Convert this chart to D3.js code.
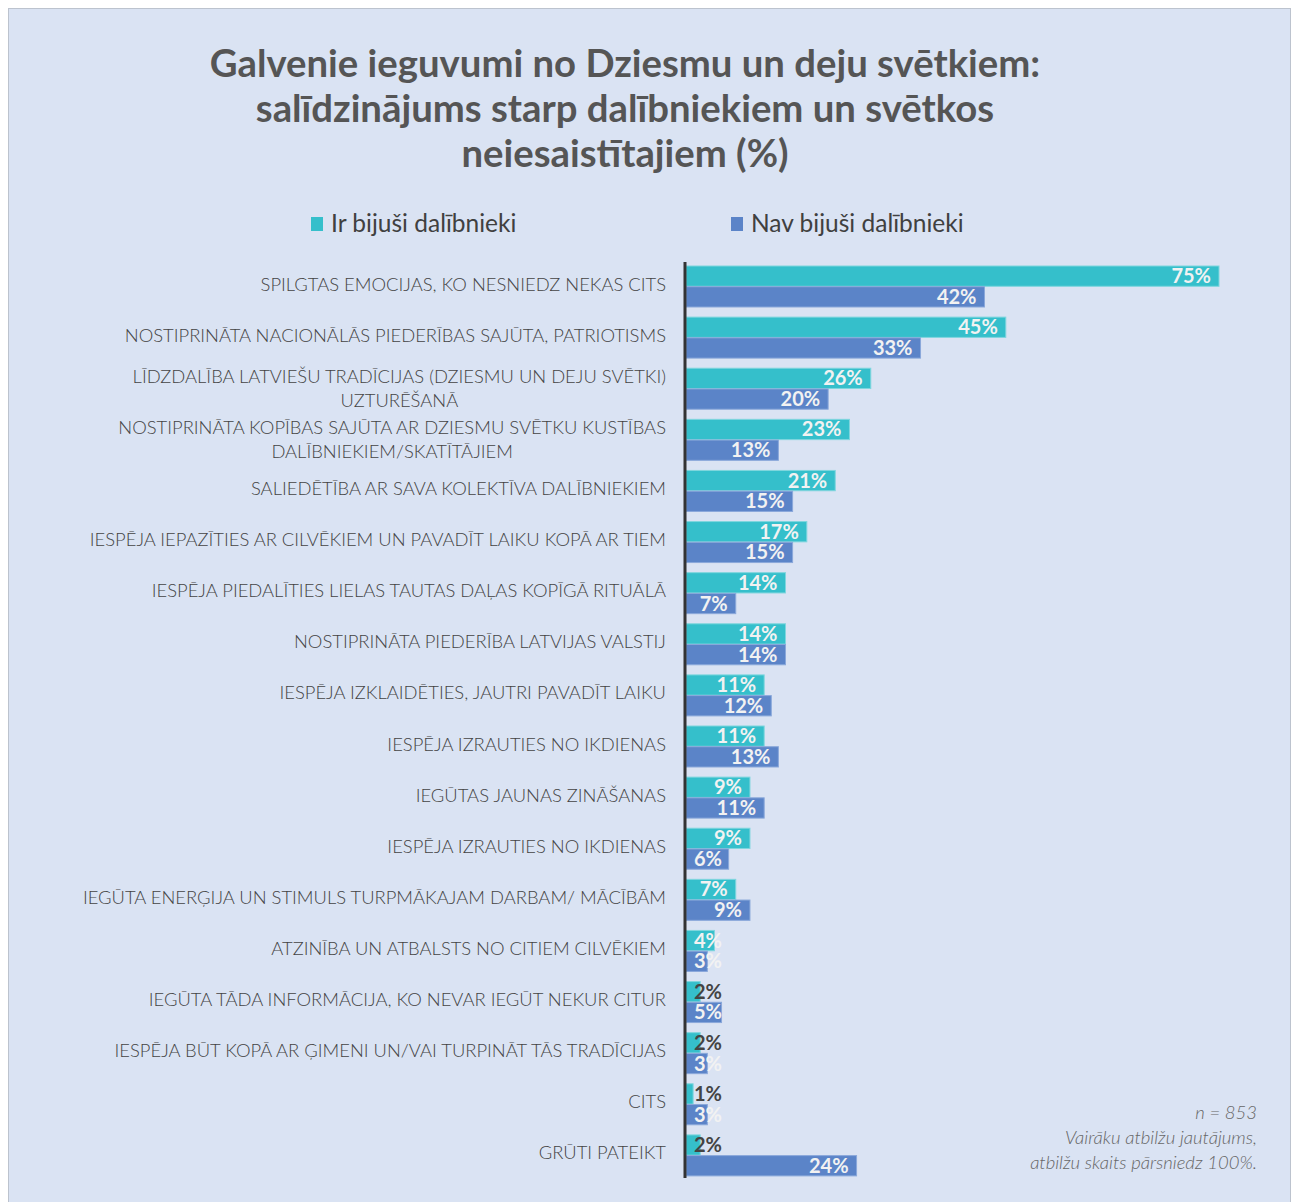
<!DOCTYPE html>
<html><head><meta charset="utf-8">
<script src="https://cdn.jsdelivr.net/npm/d3@7"></script>
<style>
html,body{margin:0;padding:0;background:#fff;}
svg text{font-family:Lato,"Open Sans",sans-serif;}
</style></head>
<body>
<svg id="chart" width="1291" height="1202"></svg>
<script>
const titleLines = ["Galvenie ieguvumi no Dziesmu un deju svētkiem:", "salīdzinājums starp dalībniekiem un svētkos", "neiesaistītajiem (%)"];
const seriesNames = ["Ir bijuši dalībnieki", "Nav bijuši dalībnieki"];
const categories = [
  ["SPILGTAS EMOCIJAS, KO NESNIEDZ NEKAS CITS"],
  ["NOSTIPRINĀTA NACIONĀLĀS PIEDERĪBAS SAJŪTA, PATRIOTISMS"],
  ["LĪDZDALĪBA LATVIEŠU TRADĪCIJAS (DZIESMU UN DEJU SVĒTKI)", "UZTURĒŠANĀ"],
  ["NOSTIPRINĀTA KOPĪBAS SAJŪTA AR DZIESMU SVĒTKU KUSTĪBAS", "DALĪBNIEKIEM/SKATĪTĀJIEM"],
  ["SALIEDĒTĪBA AR SAVA KOLEKTĪVA DALĪBNIEKIEM"],
  ["IESPĒJA IEPAZĪTIES AR CILVĒKIEM UN PAVADĪT LAIKU KOPĀ AR TIEM"],
  ["IESPĒJA PIEDALĪTIES LIELAS TAUTAS DAĻAS KOPĪGĀ RITUĀLĀ"],
  ["NOSTIPRINĀTA PIEDERĪBA LATVIJAS VALSTIJ"],
  ["IESPĒJA IZKLAIDĒTIES, JAUTRI PAVADĪT LAIKU"],
  ["IESPĒJA IZRAUTIES NO IKDIENAS"],
  ["IEGŪTAS JAUNAS ZINĀŠANAS"],
  ["IESPĒJA IZRAUTIES NO IKDIENAS"],
  ["IEGŪTA ENERĢIJA UN STIMULS TURPMĀKAJAM DARBAM/ MĀCĪBĀM"],
  ["ATZINĪBA UN ATBALSTS NO CITIEM CILVĒKIEM"],
  ["IEGŪTA TĀDA INFORMĀCIJA, KO NEVAR IEGŪT NEKUR CITUR"],
  ["IESPĒJA BŪT KOPĀ AR ĢIMENI UN/VAI TURPINĀT TĀS TRADĪCIJAS"],
  ["CITS"],
  ["GRŪTI PATEIKT"]
];
const irValues  = [75,45,26,23,21,17,14,14,11,11,9,9,7,4,2,2,1,2];
const navValues = [42,33,20,13,15,15,7,14,12,13,11,6,9,3,5,3,3,24];
const footnote = ["n = 853", "Vairāku atbilžu jautājums,", "atbilžu skaits pārsniedz 100%."];

const colors = ["#35BFCB", "#5B84C8"];
const strokes = ["#7FD6DE", "#8AA8DA"];

const svg = d3.select("#chart");
svg.append("rect").attr("x",8.5).attr("y",8.5).attr("width",1282).attr("height",1200)
  .attr("fill","#DAE3F3").attr("stroke","#BCC3CE").attr("stroke-width",1);

// title
svg.append("g").selectAll("text").data(titleLines).join("text")
  .attr("x",625).attr("y",(d,i)=>77+i*45)
  .attr("text-anchor","middle").attr("font-size",38.3).attr("font-weight",700)
  .attr("fill","#555").text(d=>d);

// legend
const legendX = [311, 731];
const lg = svg.append("g").selectAll("g").data(seriesNames).join("g")
  .attr("transform",(d,i)=>`translate(${legendX[i]},0)`);
lg.append("rect").attr("x",0).attr("y",217).attr("width",12).attr("height",14).attr("fill",(d,i)=>colors[i]);
lg.append("text").attr("x",20).attr("y",232).attr("font-size",24.5).attr("fill","#404040").text(d=>d);

const x0 = 686;
const x = d3.scaleLinear().domain([0,75]).range([x0, 1219]);
const y = d3.scaleBand().domain(d3.range(categories.length)).range([262, 1182]).paddingInner(0);
const sub = d3.scaleBand().domain([0,1]).range([4, 45]).paddingInner(0.02);

const groups = svg.append("g").selectAll("g").data(categories).join("g")
  .attr("transform",(d,i)=>`translate(0,${y(i)})`);

const labelSize = 18.4;
groups.each(function(lines, i){
  const g = d3.select(this);
  const cy = y.bandwidth()/2;
  if (lines.length === 1) {
    g.append("text").attr("x",666).attr("y",cy+3).attr("text-anchor","end")
      .attr("font-size",labelSize).attr("font-weight",300).attr("fill","#444").text(lines[0]);
  } else {
    const t1 = g.append("text").attr("x",666).attr("y",cy-7).attr("text-anchor","end")
      .attr("font-size",labelSize).attr("font-weight",300).attr("fill","#444").text(lines[0]);
    const w = t1.node().getComputedTextLength();
    g.append("text").attr("x",666 - w/2).attr("y",cy+17).attr("text-anchor","middle")
      .attr("font-size",labelSize).attr("font-weight",300).attr("fill","#444").text(lines[1]);
  }
});

// bars
const barData = (i) => [irValues[i], navValues[i]];
groups.each(function(d, i){
  const g = d3.select(this);
  const vals = barData(i);
  g.selectAll("rect.bar").data(vals).join("rect").attr("class","bar")
    .attr("x",x0).attr("y",(v,j)=>sub(j)).attr("width",v=>x(v)-x0).attr("height",sub.bandwidth())
    .attr("fill",(v,j)=>colors[j]).attr("stroke",(v,j)=>strokes[j]).attr("stroke-width",1);
  g.selectAll("text.val").data(vals).join("text").attr("class","val")
    .attr("x",v=>Math.max(x(v)-8, x0+(v>=10?48:36)))
    .attr("y",(v,j)=>sub(j)+sub.bandwidth()/2+7)
    .attr("text-anchor","end").attr("font-size",20).attr("font-weight",700)
    .attr("fill",v=>v<=2?"#444":"#F2F2F2").text(v=>v+"%");
});

// axis line
svg.append("line").attr("x1",685).attr("x2",685).attr("y1",262).attr("y2",1178)
  .attr("stroke","#333").attr("stroke-width",3);

// footnote
svg.append("g").selectAll("text").data(footnote).join("text")
  .attr("x",1257).attr("y",(d,i)=>1119+i*25).attr("text-anchor","end")
  .attr("font-size",18.5).attr("font-style","italic").attr("font-weight",300)
  .attr("fill","#666").text(d=>d);
</script>
</body></html>
